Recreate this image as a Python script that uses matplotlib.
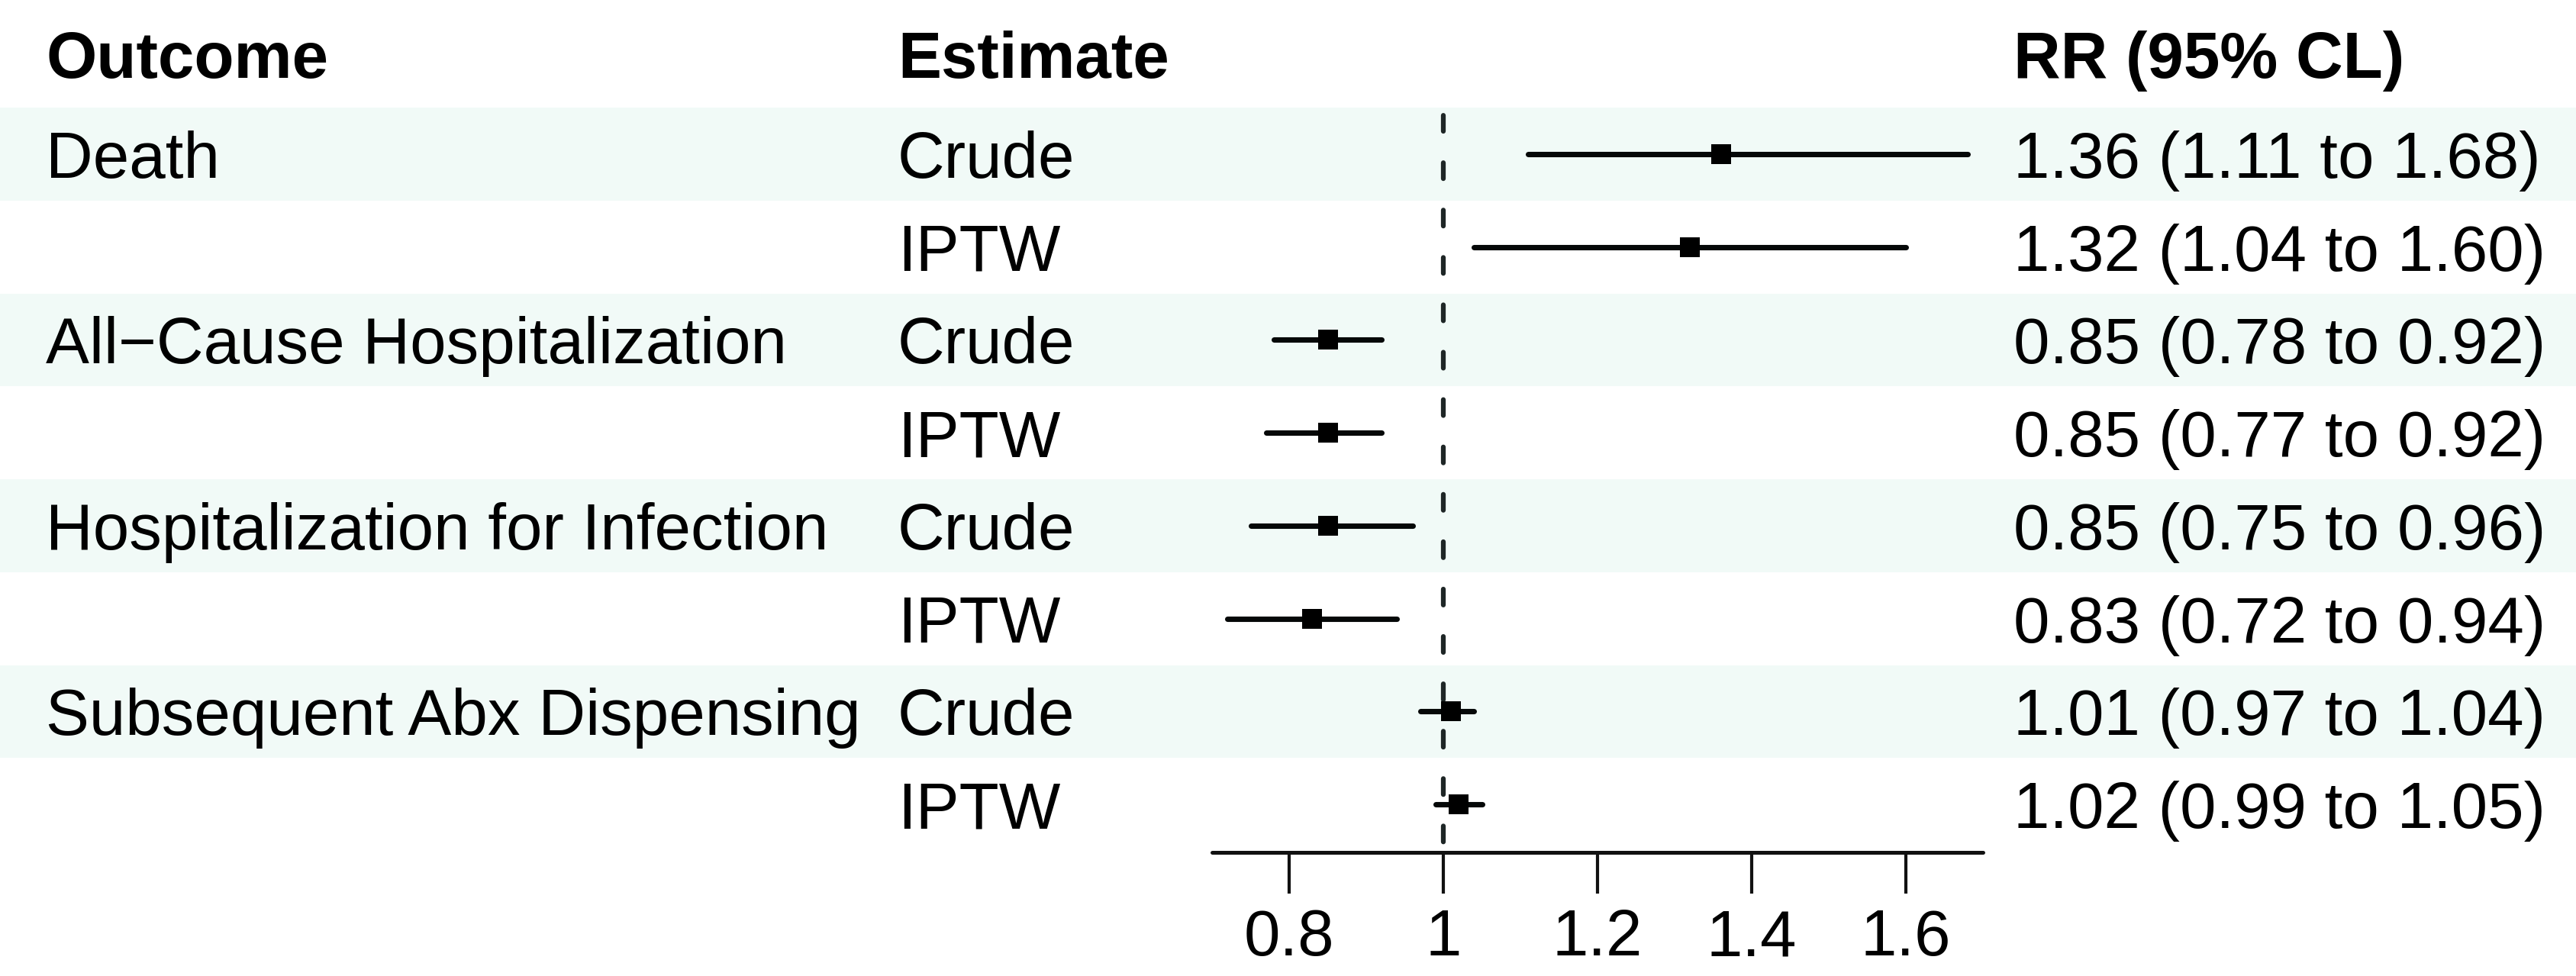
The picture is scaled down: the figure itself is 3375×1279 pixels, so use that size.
import matplotlib
matplotlib.use("Agg")
import matplotlib.pyplot as plt
from matplotlib.ticker import FixedLocator, FixedFormatter

plt.rcParams['font.family'] = ['Liberation Sans', 'DejaVu Sans']
plt.rcParams['lines.scale_dashes'] = False

# ---------------- data ----------------
outcomes = ["Death", "All\u2212Cause Hospitalization",
            "Hospitalization for Infection", "Subsequent Abx Dispensing"]
estimates = ["Crude", "IPTW"]
rr =    [1.36, 1.32, 0.85, 0.85, 0.85, 0.83, 1.01, 1.02]
lower = [1.11, 1.04, 0.78, 0.77, 0.75, 0.72, 0.97, 0.99]
upper = [1.68, 1.60, 0.92, 0.92, 0.96, 0.94, 1.04, 1.05]
headers = ["Outcome", "Estimate", "RR (95% CL)"]
tick_values = [0.8, 1.0, 1.2, 1.4, 1.6]
tick_labels = ["0.8", "1", "1.2", "1.4", "1.6"]
x_limits = (0.7, 1.7)

# ---------------- layout (pixels) ----------------
W, H = 3375, 1279
DPI = 300
row_h = 121.75
row1_c = 202.0
FS = 20.5

fig = plt.figure(figsize=(W / DPI, H / DPI), dpi=DPI)

def px_to_row(py):
    return 1 + (py - row1_c) / row_h

# background / table axes covering the whole figure
bg = fig.add_axes([0, 0, 1, 1])
bg.set_xlim(0, W)
bg.set_ylim(px_to_row(H), px_to_row(0))
bg.axis('off')

n = len(rr)
for i in range(n):
    r = i + 1
    if i % 2 == 0:
        bg.axhspan(r - 0.5, r + 0.5, color="#F1FAF7", lw=0, zorder=0)

col_x = [60, 1176, 2638]
base_off = 31 / row_h
hdr_base = px_to_row(102)
for x, h in zip(col_x, headers):
    bg.text(x, hdr_base, h, fontsize=FS, fontweight='bold', ha='left',
            va='baseline', color='black')

for i in range(n):
    r = i + 1
    if i % 2 == 0:
        bg.text(col_x[0], r + base_off, outcomes[i // 2], fontsize=FS,
                ha='left', va='baseline', color='black')
    bg.text(col_x[1], r + base_off, estimates[i % 2], fontsize=FS,
            ha='left', va='baseline', color='black')
    lbl = f"{rr[i]:.2f} ({lower[i]:.2f} to {upper[i]:.2f})"
    bg.text(col_x[2], r + base_off, lbl, fontsize=FS,
            ha='left', va='baseline', color='black')

# forest axes
ax_l, ax_r = 1588, 2598
ax_top, ax_bot = 142, 1117
ax = fig.add_axes([ax_l / W, 1 - ax_bot / H, (ax_r - ax_l) / W, (ax_bot - ax_top) / H])
ax.patch.set_alpha(0)
ax.set_xlim(*x_limits)
ax.set_ylim(px_to_row(ax_bot), px_to_row(ax_top))

ax.plot([1, 1], [px_to_row(ax_top), px_to_row(ax_bot - 4)], color="#1E2626",
        lw=1.5, linestyle=(12.7, (5.0, 9.9)), dash_capstyle='round', zorder=2)

ys = [i + 1 for i in range(n)]
for y, lo, hi in zip(ys, lower, upper):
    ax.plot([lo, hi], [y, y], color="#050808", lw=1.7,
            solid_capstyle='round', zorder=3)
ax.plot(rr, ys, linestyle='none', marker='s', markersize=6.2,
        color='black', markeredgewidth=0, zorder=4)

for s in ['top', 'right', 'left']:
    ax.spines[s].set_visible(False)
ax.spines['bottom'].set_linewidth(1.2)
ax.spines['bottom'].set_capstyle('round')
ax.spines['bottom'].set_color('#111111')
ax.yaxis.set_visible(False)
ax.xaxis.set_major_locator(FixedLocator(tick_values))
ax.xaxis.set_major_formatter(FixedFormatter(tick_labels))
ax.tick_params(axis='x', direction='out', length=13, width=1.0, color='#111111',
               pad=4.6, labelsize=FS, labelcolor='black')

fig.savefig("out.png", dpi=DPI)
